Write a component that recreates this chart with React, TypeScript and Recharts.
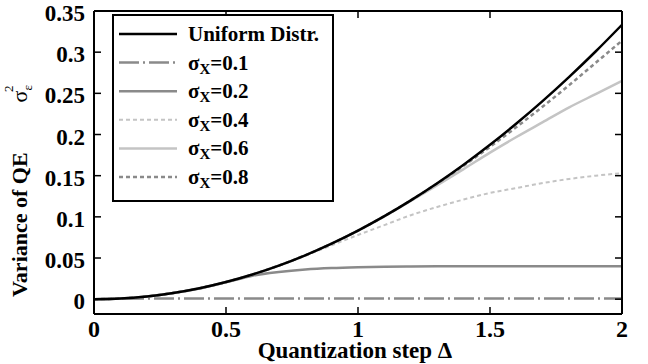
import { Legend, Line, LineChart, XAxis, YAxis } from "recharts";

// quantization step
const deltas = [0, 0.1, 0.2, 0.3, 0.4, 0.5, 0.6, 0.7, 0.8, 0.9, 1.0, 1.1, 1.2, 1.3, 1.4, 1.5, 1.6, 1.7, 1.8, 1.9, 2.0];

// variance of QE
const uniformDistr = [0, 0.0008, 0.0033, 0.0075, 0.0133, 0.0208, 0.03, 0.0408, 0.0533, 0.0675, 0.0833, 0.1008, 0.12, 0.1408, 0.1633, 0.1875, 0.2133, 0.2408, 0.27, 0.3008, 0.3333];
const sigma01 = [0, 0.0006, 0.0008, 0.0008, 0.0008, 0.0008, 0.0008, 0.0008, 0.0008, 0.0008, 0.0008, 0.0008, 0.0008, 0.0008, 0.0008, 0.0008, 0.0008, 0.0008, 0.0008, 0.0008, 0.0008];
const sigma02 = [0, 0.0008, 0.0033, 0.0075, 0.013, 0.0205, 0.0285, 0.033, 0.036, 0.0378, 0.0388, 0.0394, 0.0397, 0.0399, 0.04, 0.04, 0.04, 0.04, 0.04, 0.04, 0.04];
const sigma04 = [0, 0.0008, 0.0033, 0.0075, 0.0133, 0.0208, 0.03, 0.0406, 0.0528, 0.0655, 0.078, 0.09, 0.102, 0.112, 0.121, 0.129, 0.135, 0.141, 0.146, 0.15, 0.153];
const sigma06 = [0, 0.0008, 0.0033, 0.0075, 0.0133, 0.0208, 0.03, 0.0408, 0.0533, 0.0675, 0.0833, 0.1006, 0.1192, 0.1385, 0.158, 0.178, 0.197, 0.215, 0.233, 0.249, 0.265];
const sigma08 = [0, 0.0008, 0.0033, 0.0075, 0.0133, 0.0208, 0.03, 0.0408, 0.0533, 0.0675, 0.0833, 0.1008, 0.12, 0.1405, 0.1622, 0.185, 0.209, 0.234, 0.26, 0.287, 0.314];

const xTicks = [0, 0.5, 1, 1.5, 2];
const yTicks = [0, 0.05, 0.1, 0.15, 0.2, 0.25, 0.3, 0.35];

const FONT = "'Liberation Serif', 'Times New Roman', serif";
const serifBold = { fontFamily: FONT, fontWeight: "bold" as const };

const SERIES = [
  { key: "u", label: "Uniform Distr.", sigma: "", values: uniformDistr, stroke: "#000000", width: 2.5, dash: undefined },
  { key: "s1", label: "", sigma: "=0.1", values: sigma01, stroke: "#8a8a8a", width: 2.5, dash: "20 4 2 4" },
  { key: "s2", label: "", sigma: "=0.2", values: sigma02, stroke: "#8a8a8a", width: 2.5, dash: undefined },
  { key: "s4", label: "", sigma: "=0.4", values: sigma04, stroke: "#c4c4c4", width: 2, dash: "4 3" },
  { key: "s6", label: "", sigma: "=0.6", values: sigma06, stroke: "#c4c4c4", width: 2.5, dash: undefined },
  { key: "s8", label: "", sigma: "=0.8", values: sigma08, stroke: "#8a8a8a", width: 2.5, dash: "4 3" },
];

const data = deltas.map((d, i) => {
  const row: Record<string, number> = { d };
  SERIES.forEach((s) => (row[s.key] = s.values[i]));
  return row;
});

const LegendBox = () => (
  <div
    style={{
      width: 222,
      height: 188,
      boxSizing: "border-box",
      border: "2px solid #000",
      background: "#fff",
    }}
  >
    <svg width={218} height={184} style={{ display: "block" }}>
      {SERIES.map((s, i) => {
        const y = 18 + i * 28.6;
        return (
          <g key={s.key}>
            <line x1={5} x2={63} y1={y} y2={y} stroke={s.stroke} strokeWidth={s.width} strokeDasharray={s.dash} />
            <text x={74} y={y + 7} style={{ fontFamily: FONT, fontSize: 21 }} fill="#000">
              {s.label ? (
                <tspan style={{ fontWeight: "bold" }}>{s.label}</tspan>
              ) : (
                <>
                  <tspan>σ</tspan>
                  <tspan style={{ fontSize: 15 }} dy={4}>X</tspan>
                  <tspan style={{ fontWeight: "bold" }} dy={-4}>{s.sigma}</tspan>
                </>
              )}
            </text>
          </g>
        );
      })}
    </svg>
  </div>
);

const YTitle = () => (
  <text transform="translate(27,297) rotate(-90)" textAnchor="start" style={{ ...serifBold, fontSize: 22 }} fill="#000">
    Variance of QE
    <tspan style={{ fontWeight: "normal" }} dx={50}>σ</tspan>
    <tspan style={{ fontWeight: "normal", fontSize: 13 }} dy={5}>ε</tspan>
    <tspan style={{ fontWeight: "normal", fontSize: 13 }} dx={-7} dy={-19}>2</tspan>
  </text>
);

const XTitle = () => (
  <text x={355} y={358} textAnchor="middle" style={{ ...serifBold, fontSize: 23 }} fill="#000">
    Quantization step Δ
  </text>
);

const XTick = (props: any) => {
  const { x, y, payload } = props;
  return (
    <text x={x} y={y + 15} textAnchor="middle" style={{ ...serifBold, fontSize: 24 }} fill="#000">
      {payload.value}
    </text>
  );
};

const YTick = (props: any) => {
  const { x, y, payload } = props;
  return (
    <text x={x} y={y + 10} textAnchor="end" style={{ ...serifBold, fontSize: 23 }} fill="#000">
      {payload.value}
    </text>
  );
};

const axisLine = { stroke: "#000", strokeWidth: 2 };
const tickLine = { stroke: "#000", strokeWidth: 1.5 };

export default function App() {
  return (
    <div style={{ position: "absolute", left: 0, top: 0, background: "#fff", ...serifBold }}>
      <LineChart width={648} height={364} data={data} margin={{ top: 10, right: 25, bottom: 0, left: 0 }}>
        <XAxis
          xAxisId="b"
          dataKey="d"
          type="number"
          domain={[0, 2]}
          ticks={xTicks}
          orientation="bottom"
          height={50}
          tickSize={-7}
          tickMargin={15}
          tick={XTick}
          axisLine={axisLine}
          tickLine={tickLine}
          label={{ content: () => <XTitle /> }}
        />
        <XAxis
          xAxisId="t"
          dataKey="d"
          type="number"
          domain={[0, 2]}
          ticks={xTicks}
          orientation="top"
          height={1}
          tickSize={-7}
          tick={() => <g />}
          axisLine={axisLine}
          tickLine={tickLine}
        />
        <YAxis
          yAxisId="l"
          type="number"
          domain={[-0.018, 0.35]}
          allowDataOverflow
          ticks={yTicks}
          orientation="left"
          width={94}
          tickSize={-7}
          tickMargin={16}
          tick={YTick}
          axisLine={axisLine}
          tickLine={tickLine}
          label={{ content: () => <YTitle /> }}
        />
        <YAxis
          yAxisId="r"
          type="number"
          domain={[-0.018, 0.35]}
          allowDataOverflow
          ticks={yTicks}
          orientation="right"
          width={1}
          tickSize={-7}
          tick={() => <g />}
          axisLine={axisLine}
          tickLine={tickLine}
        />
        {[...SERIES.slice(1), SERIES[0]].map((s) => (
          <Line
            key={s.key}
            xAxisId="b"
            yAxisId="l"
            type="monotone"
            dataKey={s.key}
            stroke={s.stroke}
            strokeWidth={s.width}
            strokeDasharray={s.dash}
            dot={false}
            activeDot={false}
            isAnimationActive={false}
          />
        ))}
        <Legend
          layout="vertical"
          align="center"
          verticalAlign="middle"
          content={() => <LegendBox />}
          wrapperStyle={{ position: "absolute", left: 112, top: 14, width: 222, height: 188 }}
        />
      </LineChart>
    </div>
  );
}
